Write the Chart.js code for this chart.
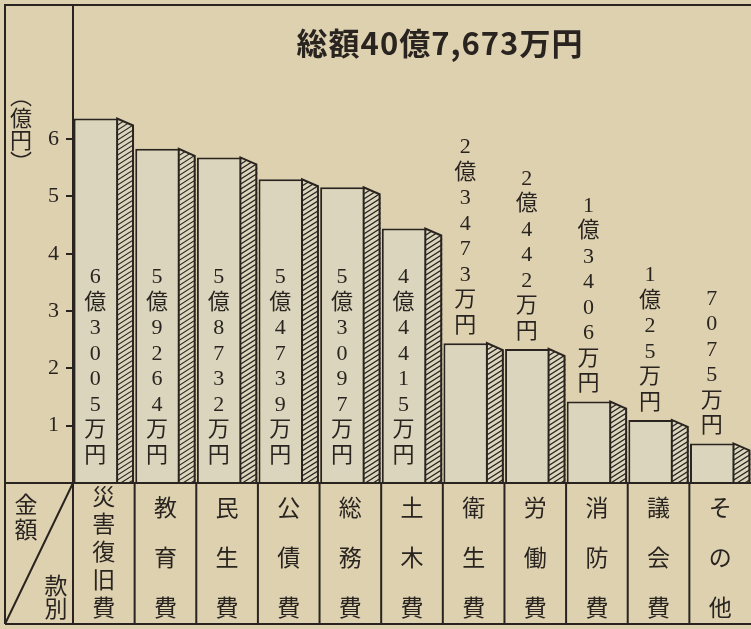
<!DOCTYPE html>
<html>
<head>
<meta charset="utf-8">
<script src="https://cdn.jsdelivr.net/npm/chart.js@4.4.1/dist/chart.umd.min.js"></script>
<style>
  html, body { margin: 0; padding: 0; background: #ddd1b0; }
  #wrap { width: 751px; height: 629px; }
</style>
</head>
<body>
<div id="wrap"><canvas id="chart" width="751" height="629"></canvas></div>
<script>
// 款別の歳出 (単位: 億円)
const categories = ['災害復旧費', '教育費', '民生費', '公債費', '総務費', '土木費', '衛生費', '労働費', '消防費', '議会費', 'その他'];
// 棒の高さ
const barHeights = [6.36, 5.83, 5.68, 5.30, 5.16, 4.44, 2.44, 2.34, 1.42, 1.10, 0.69];
// 棒に付いている金額
const amountLabels = ['6億3005万円', '5億9264万円', '5億8732万円', '5億4739万円', '5億3097万円', '4億4415万円',
  '2億3473万円', '2億442万円', '1億3406万円', '1億25万円', '7075万円'];
const yTicks = [1, 2, 3, 4, 5, 6];
const titleText = '総額40億7,673万円';

const ink = '#2a2420';
const paper = '#ddd1b0';
const face = '#dad5bc';
const serif = '"Liberation Serif", "Noto Sans CJK JP", serif';
const gothic = '"Noto Sans CJK JP", sans-serif';

function vText(ctx, str, x, y0, step) {
  [...str].forEach((ch, i) => ctx.fillText(ch, x, y0 + i * step));
}

const sheetPlugin = {
  id: 'sheet',
  beforeDraw(chart) {
    const ctx = chart.ctx;
    ctx.save();
    ctx.fillStyle = paper;
    ctx.fillRect(0, 0, chart.width, chart.height);
    ctx.restore();
  },
  afterDatasetsDraw(chart) {
    // 棒の側面 (斜線)
    const ctx = chart.ctx;
    const meta = chart.getDatasetMeta(0);
    const drop = 7;
    meta.data.forEach(bar => {
      const left = bar.x - bar.width / 2;
      const right = bar.x + bar.width / 2;
      const fr = left + bar.width * 0.72;
      const top = bar.y, base = bar.base;
      ctx.save();
      // 斜めの上端より上を消す
      ctx.fillStyle = paper;
      ctx.beginPath();
      ctx.moveTo(fr + 1, top - 3);
      ctx.lineTo(right + 0.5, top - 3);
      ctx.lineTo(right + 0.5, top + drop);
      ctx.lineTo(fr + 1, top);
      ctx.closePath();
      ctx.fill();
      // 側面
      ctx.beginPath();
      ctx.moveTo(fr, top);
      ctx.lineTo(right, top + drop);
      ctx.lineTo(right, base);
      ctx.lineTo(fr, base);
      ctx.closePath();
      ctx.fillStyle = face;
      ctx.fill();
      ctx.save();
      ctx.clip();
      ctx.strokeStyle = ink;
      ctx.lineWidth = 1.2;
      ctx.beginPath();
      for (let y = top - 30; y < base + 30; y += 5) {
        ctx.moveTo(fr - 5, y + 30);
        ctx.lineTo(right + 25, y);
      }
      ctx.stroke();
      ctx.restore();
      ctx.strokeStyle = ink;
      ctx.lineWidth = 2;
      ctx.beginPath();
      ctx.moveTo(fr, base);
      ctx.lineTo(fr, top);
      ctx.lineTo(right - 1, top + drop);
      ctx.lineTo(right - 1, base);
      ctx.stroke();
      ctx.restore();
    });
  },
  afterDraw(chart) {
    const ctx = chart.ctx;
    const area = chart.chartArea;
    const xs = chart.scales.x;
    const meta = chart.getDatasetMeta(0);
    const tableBottom = 624;
    ctx.save();
    ctx.strokeStyle = ink;
    ctx.lineWidth = 2;
    ctx.beginPath();
    // 外枠
    ctx.moveTo(5, tableBottom);
    ctx.lineTo(5, area.top);
    ctx.lineTo(chart.width, area.top);
    ctx.moveTo(5, tableBottom);
    ctx.lineTo(chart.width, tableBottom);
    // 表の上端
    ctx.moveTo(5, area.bottom);
    ctx.lineTo(chart.width, area.bottom);
    // 縦軸の延長と区切り線
    ctx.moveTo(area.left, area.top);
    ctx.lineTo(area.left, tableBottom);
    const colW = (area.right - area.left) / categories.length;
    for (let i = 1; i < categories.length; i++) {
      const x = xs.getPixelForValue(i) - colW / 2;
      ctx.moveTo(x, area.bottom);
      ctx.lineTo(x, tableBottom);
    }
    // 斜線
    ctx.moveTo(5, tableBottom);
    ctx.lineTo(area.left, area.bottom);
    ctx.stroke();

    ctx.fillStyle = ink;
    ctx.textAlign = 'center';
    ctx.textBaseline = 'middle';

    // 款別
    ctx.font = '23px ' + gothic;
    categories.forEach((name, i) => {
      const x = xs.getPixelForValue(i);
      const n = [...name].length;
      const y0 = n > 3 ? 496 : 507;
      const step = (607 - y0) / (n - 1);
      vText(ctx, name, x, y0, step);
    });
    vText(ctx, '金額', 26, 504, 25);
    vText(ctx, '款別', 56, 585, 23);

    // 縦軸の単位
    ctx.font = '22px ' + gothic;
    vText(ctx, '︵億円︶', 21, 96, 22);

    // 金額ラベル
    ctx.font = '22px ' + serif;
    const step = 25.5;
    meta.data.forEach((bar, i) => {
      const left = bar.x - bar.width / 2;
      const cx = left + bar.width * 0.36;
      const chars = [...amountLabels[i]];
      const textH = (chars.length - 1) * step;
      let lastY = 456;
      if (lastY - textH - 14 < bar.y + 10) lastY = bar.y - 17;
      vText(ctx, amountLabels[i], cx, lastY - textH, step);
    });

    // 題
    ctx.font = 'bold 31px ' + gothic;
    ctx.letterSpacing = '1px';
    ctx.fillText(titleText, 440, 43);
    ctx.restore();
  }
};

new Chart(document.getElementById('chart'), {
  type: 'bar',
  data: {
    labels: categories,
    datasets: [{
      data: barHeights,
      backgroundColor: face,
      borderColor: ink,
      borderWidth: 2,
      borderSkipped: 'bottom',
      categoryPercentage: 1,
      barPercentage: 0.98
    }]
  },
  options: {
    responsive: false,
    animation: false,
    devicePixelRatio: 1,
    layout: { padding: { left: 5, top: 5, right: 0, bottom: 146 } },
    plugins: {
      legend: { display: false },
      tooltip: { enabled: false }
    },
    scales: {
      x: { display: false, offset: true },
      y: {
        min: 0,
        max: 8.34,
        afterFit: axis => {
          axis.width = 68;
          axis.paddingTop = 0;
          axis.paddingBottom = 0;
        },
        afterBuildTicks: axis => { axis.ticks = yTicks.map(v => ({ value: v })); },
        border: { color: ink, width: 2 },
        grid: { drawOnChartArea: false, tickLength: 7, color: ink, lineWidth: 2 },
        ticks: { color: ink, padding: 7, font: { family: serif, size: 22 } }
      }
    }
  },
  plugins: [sheetPlugin]
});
</script>
</body>
</html>
